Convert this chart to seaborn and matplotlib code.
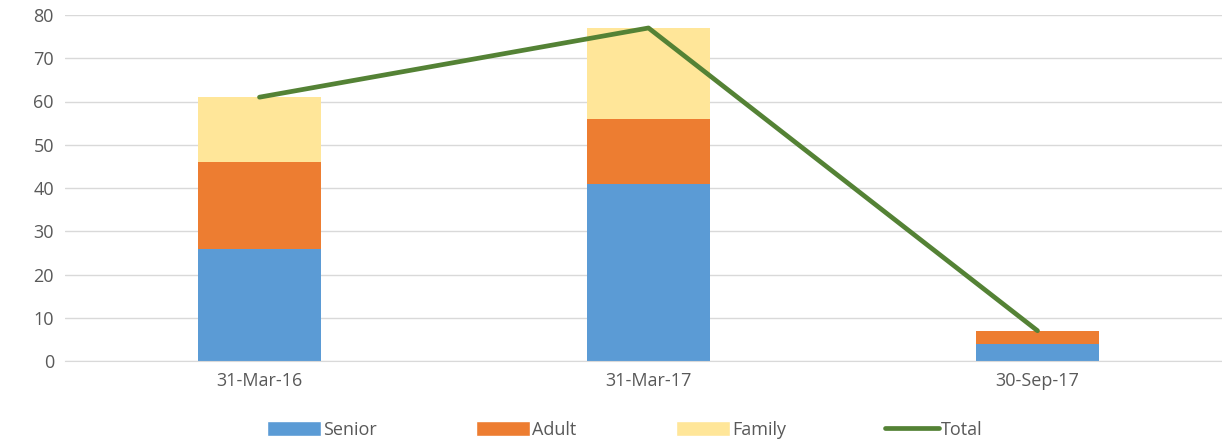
import pandas as pd
import numpy as np
import seaborn as sns
import matplotlib.pyplot as plt
from matplotlib.patches import Patch
from matplotlib.lines import Line2D

dates = ["31-Mar-16", "31-Mar-17", "30-Sep-17"]
senior = [26, 41, 4]
adult = [20, 15, 3]
family = [15, 21, 0]
total = [61, 77, 7]

colors = {"Senior": "#5B9BD5", "Adult": "#ED7D31", "Family": "#FFE699", "Total": "#548235"}
text_color = "#595959"

sns.set_style("white")
plt.rcParams["font.family"] = ["Open Sans", "DejaVu Sans"]

df = pd.DataFrame({"date": dates, "Senior": senior, "Adult": adult,
                   "Family": family, "Total": total})

fig = plt.figure(figsize=(12.22, 4.42), dpi=100)
ax = fig.add_axes([65 / 1222, 1 - 361 / 442, 1167 / 1222, 346 / 442])

bottom = np.zeros(len(dates))
for name in ["Senior", "Adult", "Family"]:
    sns.barplot(data=df, x="date", y=name, bottom=bottom, color=colors[name],
                width=0.314, saturation=1, ax=ax, linewidth=0)
    bottom = bottom + df[name].values

sns.lineplot(x=np.arange(len(dates)), y=df["Total"], color=colors["Total"],
             linewidth=3.4, ax=ax, solid_capstyle="round")

#axes styling
ax.set_xlim(-0.5, 2.5)
ax.set_ylim(0, 80)
ax.set_yticks(range(0, 81, 10))
ax.yaxis.grid(True, color="#D9D9D9", linewidth=1)
ax.set_axisbelow(True)
for s in ["top", "right", "left"]:
    ax.spines[s].set_visible(False)
ax.spines["bottom"].set_color("#D9D9D9")
ax.set_xlabel("")
ax.set_ylabel("")
ax.tick_params(axis="both", length=0, labelsize=13, colors=text_color, pad=8)

handles = [Patch(facecolor=colors["Senior"], label="Senior"),
           Patch(facecolor=colors["Adult"], label="Adult"),
           Patch(facecolor=colors["Family"], label="Family"),
           Line2D([0], [0], color=colors["Total"], linewidth=3.4,
                  solid_capstyle="round", label="Total")]
fig.legend(handles=handles, loc="center", bbox_to_anchor=(625 / 1222, 1 - 430 / 442),
           ncol=4, frameon=False, fontsize=13, labelcolor=text_color,
           handlelength=3.0, handleheight=0.9, handletextpad=0.1, columnspacing=5.5)

fig.savefig("out.png", dpi=100)
plt.close()
